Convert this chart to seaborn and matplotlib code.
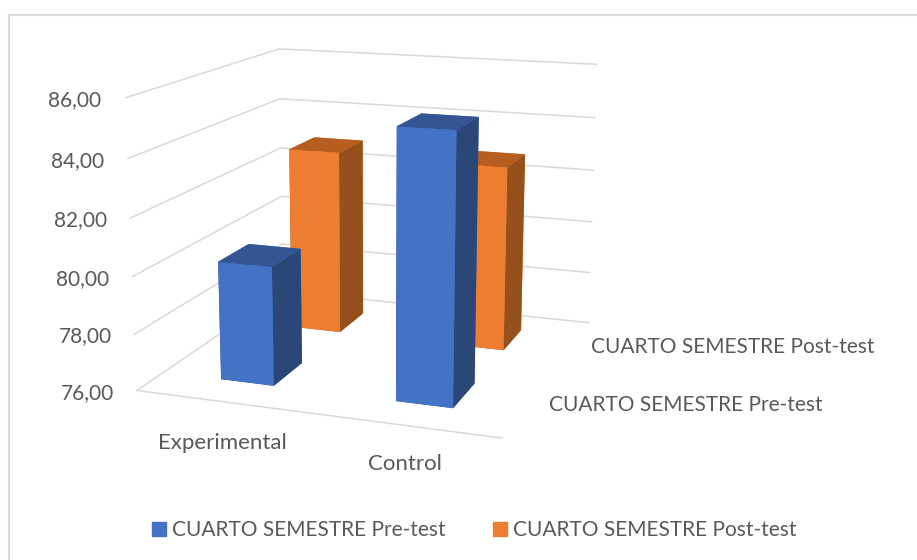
import matplotlib
matplotlib.use("Agg")
import matplotlib.pyplot as plt
from matplotlib.lines import Line2D
from matplotlib.patches import Patch
from mpl_toolkits.mplot3d import proj3d
import seaborn as sns

# Datos
categorias = ["Experimental", "Control"]
series = ["CUARTO SEMESTRE Pre-test", "CUARTO SEMESTRE Post-test"]
pre_test = [80.2, 85.25]
post_test = [82.9, 82.8]
ticks_z = [76, 78, 80, 82, 84, 86]

sns.set_theme(style="white", font="Lato")
plt.rcParams["font.family"] = ["Lato", "DejaVu Sans"]

frente = sns.color_palette(["#4472C4", "#ED7D31"])
arriba = sns.color_palette(["#335593", "#B55E20"])
lado = sns.color_palette(["#2A4778", "#95501B"])
gris = "#D9D9D9"
texto = "#595959"

fig = plt.figure(figsize=(9.17, 5.6), dpi=100)
ax = fig.add_axes([-88.8 / 917, 52.35 / 560, 1, 1], projection="3d")
ax.set_proj_type("persp", focal_length=0.5166)
ax.view_init(elev=13.838, azim=-70.34)
ax.set_box_aspect((1.0, 0.988, 0.7835), zoom=1.0059)
ax.set_xlim(-0.5, 1.5, view_margin=0)
ax.set_ylim(-0.5, 1.5, view_margin=0)
ax.set_zlim(ticks_z[0], ticks_z[-1], view_margin=0)
ax.set_xticks([])
ax.set_yticks([])
ax.set_zticks([])
ax.set_axis_off()
ax.computed_zorder = False

# Rejilla
for z in ticks_z:
    ax.plot([-0.5, -0.5], [-0.5, 1.5], [z, z], color=gris, lw=1.1, zorder=1)
    ax.plot([-0.5, 1.5], [1.5, 1.5], [z, z], color=gris, lw=1.1, zorder=1)
    xp, yp, _ = proj3d.proj_transform(-0.61, -0.5485, z - 0.07, ax.get_proj())
    ax.annotate(f"{z:.2f}".replace(".", ","), xy=(xp, yp), xycoords="data", color=texto,
                fontsize=15, ha="right", va="center", annotation_clip=False)
ax.plot([-0.5, 1.5], [-0.5, -0.5], [76, 76], color=gris, lw=1.1, zorder=1)

ancho = 0.31
fondo = 0.40


def barra(i, s, valor, orden):
    caras = [arriba[s], arriba[s], frente[s], frente[s], lado[s], lado[s]]
    ax.bar3d(i - ancho / 2, s + 0.015 - fondo / 2, ticks_z[0], ancho, fondo, valor - ticks_z[0],
             color=caras, shade=False, zorder=orden, linewidth=0)


# De atras hacia adelante
barra(0, 1, post_test[0], 2)
barra(1, 1, post_test[1], 3)
barra(0, 0, pre_test[0], 4)
barra(1, 0, pre_test[1], 5)

# Etiquetas
fig.text(222.5 / 917, 1 - 443 / 560, categorias[0], color=texto, fontsize=16, ha="center", va="center")
fig.text(404.5 / 917, 1 - 464 / 560, categorias[1], color=texto, fontsize=16, ha="center", va="center")
fig.text(686 / 917, 1 - 405 / 560, series[0], color=texto, fontsize=15, ha="center", va="center")
fig.text(733 / 917, 1 - 347 / 560, series[1], color=texto, fontsize=15, ha="center", va="center")

# Marco
fig.add_artist(Line2D([8.5 / 917, 8.5 / 917, 1], [0, 1 - 15 / 560, 1 - 15 / 560], color=gris, lw=1.5))

# Leyenda
manejadores = [Patch(color=frente[i], label=series[i]) for i in range(2)]
fig.legend(handles=manejadores, loc="center", bbox_to_anchor=(474.5 / 917, 1 - 530 / 560), ncol=2,
           frameon=False, fontsize=15, labelcolor=texto, handlelength=0.67, handleheight=0.67,
           handletextpad=0.3, columnspacing=2.25)

fig.savefig("out.png", dpi=100)
